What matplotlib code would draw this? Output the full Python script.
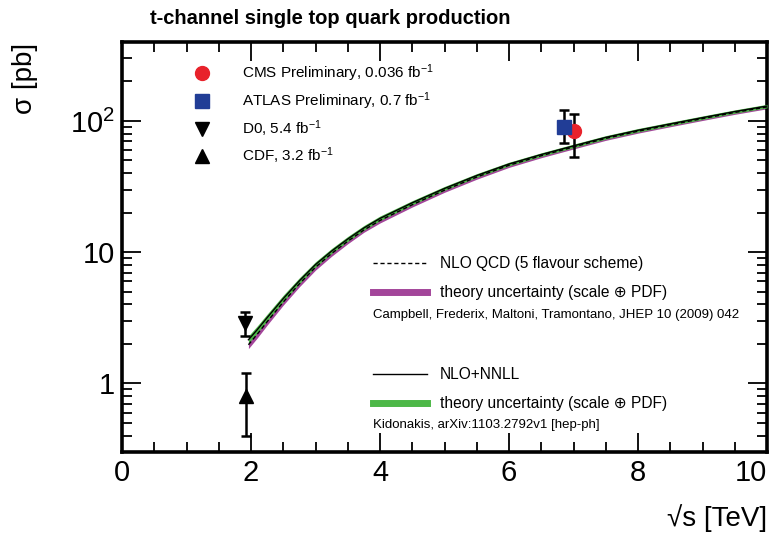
import matplotlib
matplotlib.use("Agg")
import matplotlib.pyplot as plt
from matplotlib.lines import Line2D
from matplotlib.ticker import FixedLocator, NullFormatter, MultipleLocator

plt.rcParams['font.family'] = ['Liberation Sans', 'DejaVu Sans']
plt.rcParams['mathtext.default'] = 'regular'

# ---- data ----
sqrt_s = [1.96, 2.1, 2.25, 2.5, 2.75, 3.0, 3.25, 3.5, 3.75, 4.0, 4.5, 5.0, 5.5,
          6.0, 6.5, 7.0, 7.5, 8.0, 8.5, 9.0, 9.5, 10.0]
nnll = [2.15, 2.58, 3.17, 4.43, 6.05, 8.05, 10.2, 12.6, 15.3, 18.1, 23.8, 30.6, 38.4,
        47.0, 55.5, 64.6, 75.0, 85.0, 95.0, 106.0, 118.0, 130.0]
nnll_hi = [2.3, 2.75, 3.37, 4.7, 6.38, 8.45, 10.68, 13.18, 15.97, 18.86, 24.7, 31.7, 39.7,
           48.5, 57.2, 66.6, 77.3, 87.6, 97.9, 109.2, 121.5, 134.0]
nnll_lo = [2.02, 2.43, 3.0, 4.2, 5.76, 7.7, 9.78, 12.1, 14.7, 17.4, 22.95, 29.6, 37.2,
           45.5, 53.8, 62.6, 72.7, 82.4, 92.1, 102.8, 114.5, 126.0]
nlo = [1.97, 2.38, 2.95, 4.17, 5.74, 7.68, 9.78, 12.12, 14.76, 17.45, 23.0, 29.7, 37.4,
       46.0, 54.4, 63.4, 73.7, 83.6, 93.5, 104.3, 116.2, 128.0]
nlo_hi = [2.09, 2.52, 3.11, 4.38, 6.0, 8.0, 10.17, 12.58, 15.3, 18.05, 23.8, 30.7, 38.6,
          47.4, 56.0, 65.2, 75.7, 85.8, 95.9, 107.0, 119.2, 131.2]
nlo_lo = [1.84, 2.23, 2.78, 3.95, 5.45, 7.3, 9.32, 11.6, 14.18, 16.7, 22.1, 28.6, 36.0,
          44.3, 52.5, 61.2, 71.2, 80.8, 90.4, 100.9, 112.4, 123.9]

meas_labels = ['CMS Preliminary, 0.036 fb$^{-1}$', 'ATLAS Preliminary, 0.7 fb$^{-1}$',
               'D0, 5.4 fb$^{-1}$', 'CDF, 3.2 fb$^{-1}$']
meas_x = [7.0, 6.85, 1.91, 1.93]
meas_y = [83.6, 90.0, 2.90, 0.80]
meas_err_lo = [30.0, 22.0, 0.59, 0.40]
meas_err_hi = [30.0, 32.0, 0.59, 0.40]
meas_markers = ['o', 's', 'v', '^']
meas_colors = ['#e8222b', '#213d96', 'black', 'black']

ytick_vals = [1, 10, 100]
ytick_labels = ['1', '10', '10$^{2}$']
xtick_vals = [0, 2, 4, 6, 8, 10]

magenta = '#a3459a'
green = '#4db848'

# ---- figure ----
W, H = 778, 536
fig = plt.figure(figsize=(W / 100, H / 100), dpi=100)
L, R, T, B = 122, 767, 42, 452
ax = fig.add_axes([L / W, 1 - B / H, (R - L) / W, (B - T) / H])
ax.set_yscale('log')
ax.set_xlim(0, 10)
ax.set_ylim(0.3, 400)

# theory bands
ax.fill_between(sqrt_s, nlo_lo, nlo_hi, color=magenta, lw=0, zorder=2)
ax.fill_between(sqrt_s, nnll_lo, nnll_hi, color=green, lw=0, zorder=3)
ax.plot(sqrt_s, nlo, color='black', lw=1.0, ls=(0, (3, 2)), zorder=4)
ax.plot(sqrt_s, nnll, color='black', lw=1.0, zorder=4)

# measurements
for x, y, lo, hi, m, c in zip(meas_x, meas_y, meas_err_lo, meas_err_hi, meas_markers, meas_colors):
    ax.errorbar([x], [y], yerr=[[lo], [hi]], fmt='none', ecolor='black',
                elinewidth=1.8, capsize=3.5, capthick=1.8, zorder=5)
    ax.plot([x], [y], marker=m, color=c, ms=10 if m in 'o^v' else 9.5, ls='none', zorder=6)

# axes styling
ax.set_xticks(xtick_vals)
ax.xaxis.set_minor_locator(MultipleLocator(0.5))
ax.set_yticks(ytick_vals, labels=ytick_labels)
ax.yaxis.set_minor_locator(FixedLocator([0.3, 0.4, 0.5, 0.6, 0.7, 0.8, 0.9,
                                         2, 3, 4, 5, 6, 7, 8, 9,
                                         20, 30, 40, 50, 60, 70, 80, 90,
                                         200, 300, 400]))
ax.yaxis.set_minor_formatter(NullFormatter())
ax.tick_params(which='both', direction='in', top=True, right=True, width=1.3)
ax.tick_params(which='major', length=14, labelsize=21, pad=5)
ax.tick_params(which='minor', length=7)
for s in ax.spines.values():
    s.set_linewidth(2.6)
xlabels = ax.get_xticklabels()
xlabels[-1].set_horizontalalignment('right')
xlabels[-1].set_x(10.0)

# texts
fig.text(150 / W, 1 - 18 / H, 't-channel single top quark production',
         fontsize=14.5, fontweight='bold', ha='left', va='center')
fig.text(25 / W, 1 - 78 / H, 'σ [pb]', rotation=90, fontsize=20, ha='center', va='center')
fig.text(R / W, 1 - 518 / H, '√s [TeV]', fontsize=20, ha='right', va='center')

# legend 1: measurements
h1 = [Line2D([], [], marker=m, color=c, ls='none', ms=10 if m in 'o^v' else 9.5)
      for m, c in zip(meas_markers, meas_colors)]
leg1 = ax.legend(h1, meas_labels, loc='upper left', bbox_to_anchor=(0.106, 0.95),
                 frameon=False, fontsize=11, handlelength=1.5, handletextpad=1.9,
                 labelspacing=0.42, borderpad=0, borderaxespad=0)
ax.add_artist(leg1)

# legend 2: NLO
h2 = [Line2D([], [], color='black', lw=1.0, ls=(0, (3, 2))),
      Line2D([], [], color=magenta, lw=5)]
leg2 = ax.legend(h2, ['NLO QCD (5 flavour scheme)', 'theory uncertainty (scale ⊕ PDF)'],
                 loc='upper left', bbox_to_anchor=(0.389, 0.478), frameon=False,
                 fontsize=11.2, handlelength=3.5, handletextpad=0.8,
                 labelspacing=0.92, borderpad=0, borderaxespad=0)
ax.add_artist(leg2)

# legend 3: NNLL
h3 = [Line2D([], [], color='black', lw=1.0),
      Line2D([], [], color=green, lw=5)]
leg3 = ax.legend(h3, ['NLO+NNLL', 'theory uncertainty (scale ⊕ PDF)'],
                 loc='upper left', bbox_to_anchor=(0.389, 0.207), frameon=False,
                 fontsize=11.2, handlelength=3.5, handletextpad=0.8,
                 labelspacing=0.92, borderpad=0, borderaxespad=0)

ax.text(0.389, 0.333, 'Campbell, Frederix, Maltoni, Tramontano, JHEP 10 (2009) 042',
        transform=ax.transAxes, fontsize=9.5, ha='left', va='center')
ax.text(0.389, 0.066, 'Kidonakis, arXiv:1103.2792v1 [hep-ph]',
        transform=ax.transAxes, fontsize=9.5, ha='left', va='center')

fig.savefig('out.png', dpi=100)
